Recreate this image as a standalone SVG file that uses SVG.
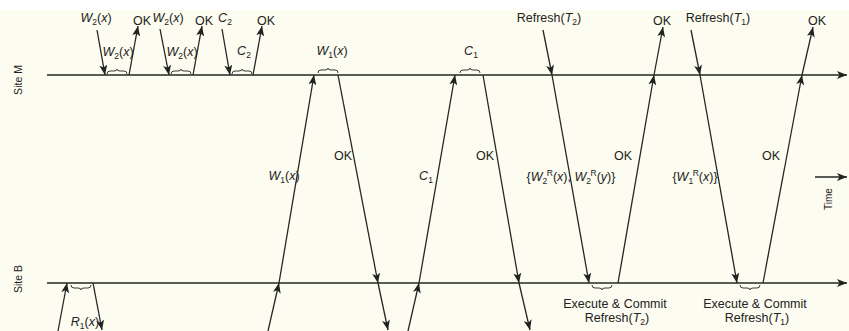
<svg xmlns="http://www.w3.org/2000/svg" width="849" height="331" viewBox="0 0 849 331">
  <defs>
    <style>
      .bg { fill: #fcfcf0; }
      .tl { stroke: #262626; stroke-width: 1.5; fill: none; }
      .msg { stroke: #262626; stroke-width: 1.3; fill: none; marker-end: url(#ah); }
      .brace { stroke: #3a3a3a; stroke-width: 1; fill: none; }
      text { font-family: "Liberation Sans", Arial, sans-serif; font-size: 12.5px; fill: #222; }
      .site { font-size: 10.5px; }
      .time { font-size: 10px; }
      .i { font-style: italic; }
      .sub { font-size: 8.5px; }
    </style>
    <marker id="ah" viewBox="0 0 10 8" refX="10" refY="4" markerWidth="10" markerHeight="8" markerUnits="userSpaceOnUse" orient="auto">
      <path d="M0,0 L10,4 L0,8 L2.5,4 z" fill="#222"/>
    </marker>
    <!-- brace above a timeline: hooks point down, cusp up -->
    <path id="over" d="M0,3 Q0,0 3,0 L7,0 Q10,0 10,-2 Q10,0 13,0 L17,0 Q20,0 20,3"/>
    <!-- brace below a timeline: hooks point up, cusp down -->
    <path id="under" d="M0,-3 Q0,0 3,0 L7,0 Q10,0 10,2 Q10,0 13,0 L17,0 Q20,0 20,-3"/>
  </defs>

  <rect x="0" y="0" width="849" height="331" fill="#ffffff"/>
  <rect class="bg" x="0" y="10" width="849" height="321"/>

  <!-- site timelines -->
  <g id="site-m">
    <line class="tl" x1="47" y1="75" x2="847" y2="75" marker-end="url(#ah)"/>
    <text class="site" transform="translate(22,80) rotate(-90)" text-anchor="middle">Site M</text>
  </g>
  <g id="site-b">
    <line class="tl" x1="47" y1="283" x2="847" y2="283" marker-end="url(#ah)"/>
    <text class="site" transform="translate(22,279) rotate(-90)" text-anchor="middle">Site B</text>
  </g>

  <!-- time direction -->
  <g id="time">
    <line class="tl" x1="815" y1="177" x2="847" y2="177" stroke-width="1.3" marker-end="url(#ah)"/>
    <text class="time" transform="translate(832,199) rotate(-90)" text-anchor="middle">Time</text>
  </g>

  <!-- messages -->
  <g id="connectors">
    <!-- T2 at site M -->
    <line class="msg" x1="97" y1="30" x2="105" y2="75"/>
    <line class="msg" x1="129" y1="75" x2="138" y2="26"/>
    <line class="msg" x1="160" y1="29" x2="169" y2="75"/>
    <line class="msg" x1="193" y1="75" x2="202" y2="26"/>
    <line class="msg" x1="222" y1="29" x2="230" y2="75"/>
    <line class="msg" x1="253" y1="75" x2="262" y2="26"/>
    <!-- T1 read at site B -->
    <line class="msg" x1="58" y1="331" x2="67" y2="283"/>
    <line class="msg" x1="93" y1="283" x2="102" y2="330"/>
    <!-- T1 write via B to M -->
    <line class="msg" x1="268" y1="331" x2="279" y2="283"/>
    <line class="msg" x1="279" y1="283" x2="314" y2="75"/>
    <line class="msg" x1="338" y1="75" x2="378" y2="283"/>
    <line class="msg" x1="378" y1="283" x2="388" y2="330"/>
    <!-- T1 commit via B to M -->
    <line class="msg" x1="408" y1="331" x2="419" y2="283"/>
    <line class="msg" x1="419" y1="283" x2="455" y2="75"/>
    <line class="msg" x1="483" y1="75" x2="519" y2="283"/>
    <line class="msg" x1="519" y1="283" x2="530" y2="330"/>
    <!-- Refresh(T2) -->
    <line class="msg" x1="543" y1="30" x2="552" y2="75"/>
    <line class="msg" x1="552" y1="75" x2="589" y2="283"/>
    <line class="msg" x1="618" y1="283" x2="654" y2="75"/>
    <line class="msg" x1="654" y1="75" x2="663" y2="27"/>
    <!-- Refresh(T1) -->
    <line class="msg" x1="691" y1="30" x2="700" y2="75"/>
    <line class="msg" x1="700" y1="75" x2="737" y2="283"/>
    <line class="msg" x1="763" y1="283" x2="802" y2="75"/>
    <line class="msg" x1="802" y1="75" x2="813" y2="27"/>
  </g>

  <!-- processing spans -->
  <g id="braces" class="brace">
    <use href="#over" x="107" y="71"/>
    <use href="#over" x="171" y="71"/>
    <use href="#over" x="232" y="71"/>
    <use href="#over" x="318" y="70"/>
    <use href="#over" x="460" y="70"/>
    <use href="#under" x="71" y="288"/>
    <use href="#under" x="592" y="288"/>
    <use href="#under" x="740" y="288"/>
  </g>

  <!-- message labels -->
  <g id="labels">
    <text x="96" y="22" text-anchor="middle"><tspan class="i">W</tspan><tspan class="sub" dy="3">2</tspan><tspan dy="-3">(</tspan><tspan class="i">x</tspan>)</text>
    <text x="142" y="25" text-anchor="middle">OK</text>
    <text x="168" y="22" text-anchor="middle"><tspan class="i">W</tspan><tspan class="sub" dy="3">2</tspan><tspan dy="-3">(</tspan><tspan class="i">x</tspan>)</text>
    <text x="204" y="25" text-anchor="middle">OK</text>
    <text x="225" y="22" text-anchor="middle"><tspan class="i">C</tspan><tspan class="sub" dy="3">2</tspan></text>
    <text x="266" y="25" text-anchor="middle">OK</text>

    <text x="118" y="56" text-anchor="middle"><tspan class="i">W</tspan><tspan class="sub" dy="3">2</tspan><tspan dy="-3">(</tspan><tspan class="i">x</tspan>)</text>
    <text x="182" y="56" text-anchor="middle"><tspan class="i">W</tspan><tspan class="sub" dy="3">2</tspan><tspan dy="-3">(</tspan><tspan class="i">x</tspan>)</text>
    <text x="244" y="55" text-anchor="middle"><tspan class="i">C</tspan><tspan class="sub" dy="3">2</tspan></text>

    <text x="332" y="55" text-anchor="middle"><tspan class="i">W</tspan><tspan class="sub" dy="3">1</tspan><tspan dy="-3">(</tspan><tspan class="i">x</tspan>)</text>
    <text x="471" y="55" text-anchor="middle"><tspan class="i">C</tspan><tspan class="sub" dy="3">1</tspan></text>

    <text x="549" y="22" text-anchor="middle">Refresh(<tspan class="i">T</tspan><tspan class="sub" dy="3">2</tspan><tspan dy="-3">)</tspan></text>
    <text x="662" y="25" text-anchor="middle">OK</text>
    <text x="718" y="22" text-anchor="middle">Refresh(<tspan class="i">T</tspan><tspan class="sub" dy="3">1</tspan><tspan dy="-3">)</tspan></text>
    <text x="817" y="25" text-anchor="middle">OK</text>

    <text x="284" y="180" text-anchor="middle"><tspan class="i">W</tspan><tspan class="sub" dy="3">1</tspan><tspan dy="-3">(</tspan><tspan class="i">x</tspan>)</text>
    <text x="343" y="160" text-anchor="middle">OK</text>
    <text x="426" y="180" text-anchor="middle"><tspan class="i">C</tspan><tspan class="sub" dy="3">1</tspan></text>
    <text x="485" y="160" text-anchor="middle">OK</text>
    <text x="571" y="181" text-anchor="middle">{<tspan class="i">W</tspan><tspan class="sub" dy="3">2</tspan><tspan class="sub" dx="-0.5" dy="-8">R</tspan><tspan dy="5">(</tspan><tspan class="i">x</tspan>), <tspan class="i">W</tspan><tspan class="sub" dy="3">2</tspan><tspan class="sub" dx="-0.5" dy="-8">R</tspan><tspan dy="5">(</tspan><tspan class="i">y</tspan>)}</text>
    <text x="623" y="160" text-anchor="middle">OK</text>
    <text x="695" y="181" text-anchor="middle">{<tspan class="i">W</tspan><tspan class="sub" dy="3">1</tspan><tspan class="sub" dx="-0.5" dy="-8">R</tspan><tspan dy="5">(</tspan><tspan class="i">x</tspan>)}</text>
    <text x="771" y="160" text-anchor="middle">OK</text>

    <text x="85" y="326" text-anchor="middle"><tspan class="i">R</tspan><tspan class="sub" dy="3">1</tspan><tspan dy="-3">(</tspan><tspan class="i">x</tspan>)</text>

    <text x="615" y="308" text-anchor="middle">Execute &amp; Commit</text>
    <text x="617" y="322" text-anchor="middle">Refresh(<tspan class="i">T</tspan><tspan class="sub" dy="3">2</tspan><tspan dy="-3">)</tspan></text>
    <text x="755" y="308" text-anchor="middle">Execute &amp; Commit</text>
    <text x="757" y="322" text-anchor="middle">Refresh(<tspan class="i">T</tspan><tspan class="sub" dy="3">1</tspan><tspan dy="-3">)</tspan></text>
  </g>
</svg>
